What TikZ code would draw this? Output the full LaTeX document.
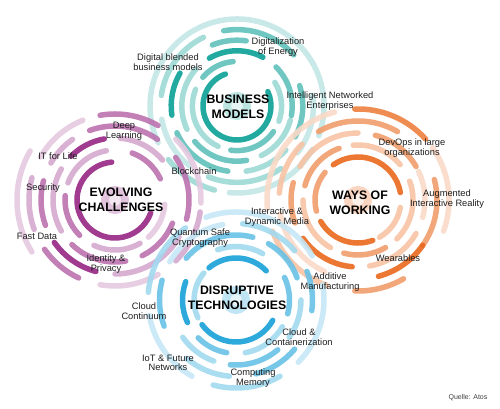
\documentclass[tikz,border=0pt]{standalone}
\usepackage{fontspec}
\setmainfont{Liberation Sans}
\usetikzlibrary{positioning}

\definecolor{bizteal}{RGB}{10,160,150}
\definecolor{evoplum}{RGB}{150,38,132}
\definecolor{wayorange}{RGB}{234,104,28}
\definecolor{disblue}{RGB}{22,160,215}
\definecolor{inkgrey}{RGB}{30,30,30}

% one cluster of broken rings: centre, colour, first radius, step, arcs k/from/to/tint
\newcommand{\ringset}[5]{%
  \draw[line width=8pt, #2!30, fill=#2!12, opacity=0.9] (#1) circle (10pt);
  \foreach \k/\a/\b/\t [evaluate=\k as \r using #3+\k*#4] in {#5}
    \draw[seg, #2!\t] ([shift={(\a:\r pt)}]#1) arc (\a:\b:\r pt);
}

\begin{document}
\begin{tikzpicture}[x=1pt, y=1pt,
    seg/.style={line width=5.5pt, line cap=round, opacity=0.9},
    lbl/.style={font=\fontsize{9.3}{9.6}\selectfont, text=inkgrey, align=center, inner sep=0pt},
    ttl/.style={font=\fontsize{12.3}{15}\selectfont\bfseries, text=black, align=center, inner sep=0pt}]

    \useasboundingbox (0,0) rectangle (500,409);

    \coordinate (tc) at (237,303);
    \coordinate (pc) at (115,209);
    \coordinate (oc) at (358,209);
    \coordinate (bc) at (236,109);

    % business models
    \ringset{tc}{bizteal}{34}{10.6}{0/110/385/100,
      1/95/140/65, 1/158/245/40, 1/262/325/65, 1/340/392/40,
      2/62/120/100, 2/138/205/40, 2/220/280/65, 2/296/345/40, 2/-10/45/65,
      3/82/112/65, 3/150/188/100, 3/204/262/65, 3/278/318/40, 3/332/378/65,
      4/42/100/65, 4/116/172/40, 4/190/232/25, 4/248/305/40, 4/322/368/25,
      5/-20/205/25, 5/218/255/40, 5/265/330/25}

    % evolving challenges
    \ringset{pc}{evoplum}{38}{12}{0/95/340/100,
      1/25/70/65, 1/100/160/40, 1/175/225/65, 1/245/300/40, 1/312/355/25,
      2/40/85/40, 2/100/135/100, 2/150/210/40, 2/226/280/65, 2/296/338/65,
      3/55/110/65, 3/125/150/40, 3/165/200/65, 3/215/255/100, 3/270/330/40, 3/345/395/65,
      4/60/100/65, 4/112/150/25, 4/165/200/40, 4/215/245/65, 4/260/300/25, 4/315/352/40, 4/-2/45/25,
      5/150/212/25}

    % ways of working
    \ringset{oc}{wayorange}{43}{12}{0/10/125/100, 0/210/290/100, 0/300/350/40, 0/140/195/65,
      1/40/95/40, 1/110/165/65, 1/180/240/40, 1/255/300/65, 1/315/380/40,
      2/30/75/65, 2/90/150/40, 2/165/200/65, 2/215/265/100, 2/280/330/40, 2/345/385/25,
      3/-35/15/65, 3/60/120/65, 3/135/175/40, 3/190/245/25, 3/285/325/100,
      4/-20/35/25, 4/42/92/85, 4/105/185/25, 4/200/250/40, 4/268/300/65}

    % disruptive technologies
    \ringset{bc}{disblue}{42}{11.5}{0/44/130/100, 0/216/331/100, 0/140/205/40,
      1/160/205/100, 1/60/110/40, 1/225/260/65, 1/280/330/40, 1/345/385/65,
      2/20/60/65, 2/75/140/65, 2/215/250/40, 2/265/310/65, 2/325/360/40,
      3/-8/22/65, 3/40/85/40, 3/100/150/25, 3/165/200/65, 3/230/265/40, 3/285/320/65,
      4/30/110/25, 4/125/175/40, 4/190/240/25, 4/255/300/40, 4/315/370/25}

    % titles
    \node [ttl] (bmtitle) at (238,302) {BUSINESS\\MODELS};
    \node [ttl] (ectitle) at (121,209) {EVOLVING\\CHALLENGES};
    \node [ttl] (wwtitle) at (360,206) {WAYS OF\\WORKING};
    \node [ttl] (dttitle) at (237,111) {DISRUPTIVE\\TECHNOLOGIES};

    % labels
    \node [lbl] (digblend) at (168,347) {Digital blended\\business models};
    \node [lbl] (digenergy) at (278,362) {Digitalization\\of Energy};
    \node [lbl] (intnet) at (330,308) {Intelligent Networked\\Enterprises};
    \node [lbl] (deeplearn) at (124,278) {Deep\\Learning};
    \node [lbl] (itlife) at (58,253) {IT for Life};
    \node [lbl] (security) at (43,221) {Security};
    \node [lbl] (fastdata) at (37,173) {Fast Data};
    \node [lbl] (identity) at (106,145) {Identity \&\\Privacy};
    \node [lbl] (blockchain) at (194,238) {Blockchain};
    \node [lbl] (quantum) at (200,171) {Quantum Safe\\Cryptography};
    \node [lbl] (devops) at (412,261) {DevOps in large\\organizations};
    \node [lbl] (augmented) at (447,210) {Augmented\\Interactive Reality};
    \node [lbl] (wearables) at (398,151) {Wearables};
    \node [lbl] (interactive) at (277,192) {Interactive \&\\Dynamic Media};
    \node [lbl] (additive) at (330,127) {Additive\\Manufacturing};
    \node [lbl] (cloudcont) at (144,98) {Cloud\\Continuum};
    \node [lbl] (iot) at (168,46) {IoT \& Future\\Networks};
    \node [lbl] (computing) at (253,31) {Computing\\Memory};
    \node [lbl] (containers) at (299,72) {Cloud \&\\Containerization};
    \node [lbl, font=\fontsize{7}{8}\selectfont, text=black!75] (quelle) at (468,11) {Quelle: Atos};
\end{tikzpicture}
\end{document}
